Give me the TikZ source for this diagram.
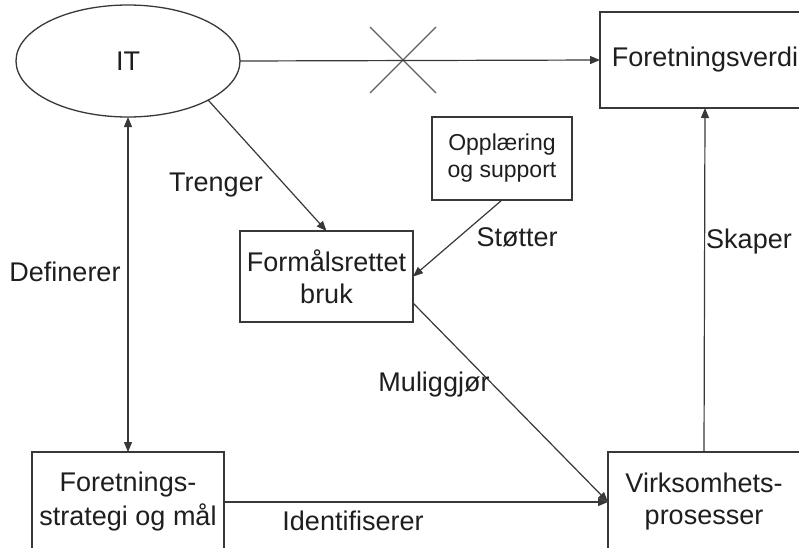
\documentclass[tikz,border=0pt]{standalone}
\usepackage{fontspec}
\setmainfont{Liberation Sans}
\usetikzlibrary{shapes.geometric,shapes.misc,arrows.meta,calc}
\definecolor{linec}{HTML}{383838}
\definecolor{textc}{HTML}{1E1E1E}
\begin{document}
\begin{tikzpicture}[x=1pt,y=-1pt,
  every node/.style={text=textc,inner sep=0pt,outer sep=0pt},
  big/.style={font=\fontsize{27}{32}\selectfont},
  small/.style={font=\fontsize{23}{27}\selectfont},
  boxnode/.style={draw=linec,line width=1.3pt,rectangle,align=center},
  link/.style={draw=linec,line width=1.2pt},
  arr/.style={link,-{Triangle[length=10pt,width=8pt]}},
  darr/.style={link,{Triangle[length=10pt,width=8pt]}-{Triangle[length=10pt,width=8pt]}},
  lbl/.style={big,fill=none}]
\useasboundingbox (0,0) rectangle (799,547);
\clip (0,0) rectangle (799,547);
\fill[white] (0,0) rectangle (799,547);

% main elements
\node[draw=linec,line width=1.3pt,ellipse,minimum width=224pt,minimum height=112pt,big] (it) at (128,61) {IT};
\node[boxnode,big,minimum width=210pt,minimum height=96pt] (fv) at (705,60) {Foretningsverdi};
\node[boxnode,small,minimum width=140pt,minimum height=83pt] (opp) at (502,158.5) {Opplæring\\og support};
\node[boxnode,big,minimum width=173pt,minimum height=91pt] (form) at (326.5,276.5) {Formålsrettet\\bruk};
\node[boxnode,font=\fontsize{27}{34}\selectfont,minimum width=192pt,minimum height=100pt] (fs) at (128,502) {Foretnings-\\strategi og mål};
\node[boxnode,font=\fontsize{27}{32}\selectfont,minimum width=192pt,minimum height=100pt] (vp) at (704,502) {Virksomhets-\\prosesser};

% blocked link IT -> value
\node[cross out,draw=linec!80,line width=1.1pt,minimum size=66pt] (blk) at (403,60) {};

% connectors
\draw[arr] (it.east) -- (fv.west);
\draw[darr] (it.south) -- (fs.north);
\draw[arr] (it.-26) -- (form.north);
\draw[arr] (opp.south) -- (form.east);
\draw[arr] ($(form.south east)+(0,-19)$) -- (vp.west);
\draw[arr] (fs.east) -- (vp.west);
\draw[arr] (vp.north) -- (fv.south);

% connector labels
\node[lbl] (l1) at (216,185) {Trenger};
\node[lbl] (l2) at (65,272) {Definerer};
\node[lbl] (l3) at (517,237) {Støtter};
\node[lbl] (l4) at (434,385) {Muliggjør};
\node[lbl] (l5) at (353,521) {Identifiserer};
\node[lbl] (l6) at (749,242) {Skaper};
\end{tikzpicture}
\end{document}
